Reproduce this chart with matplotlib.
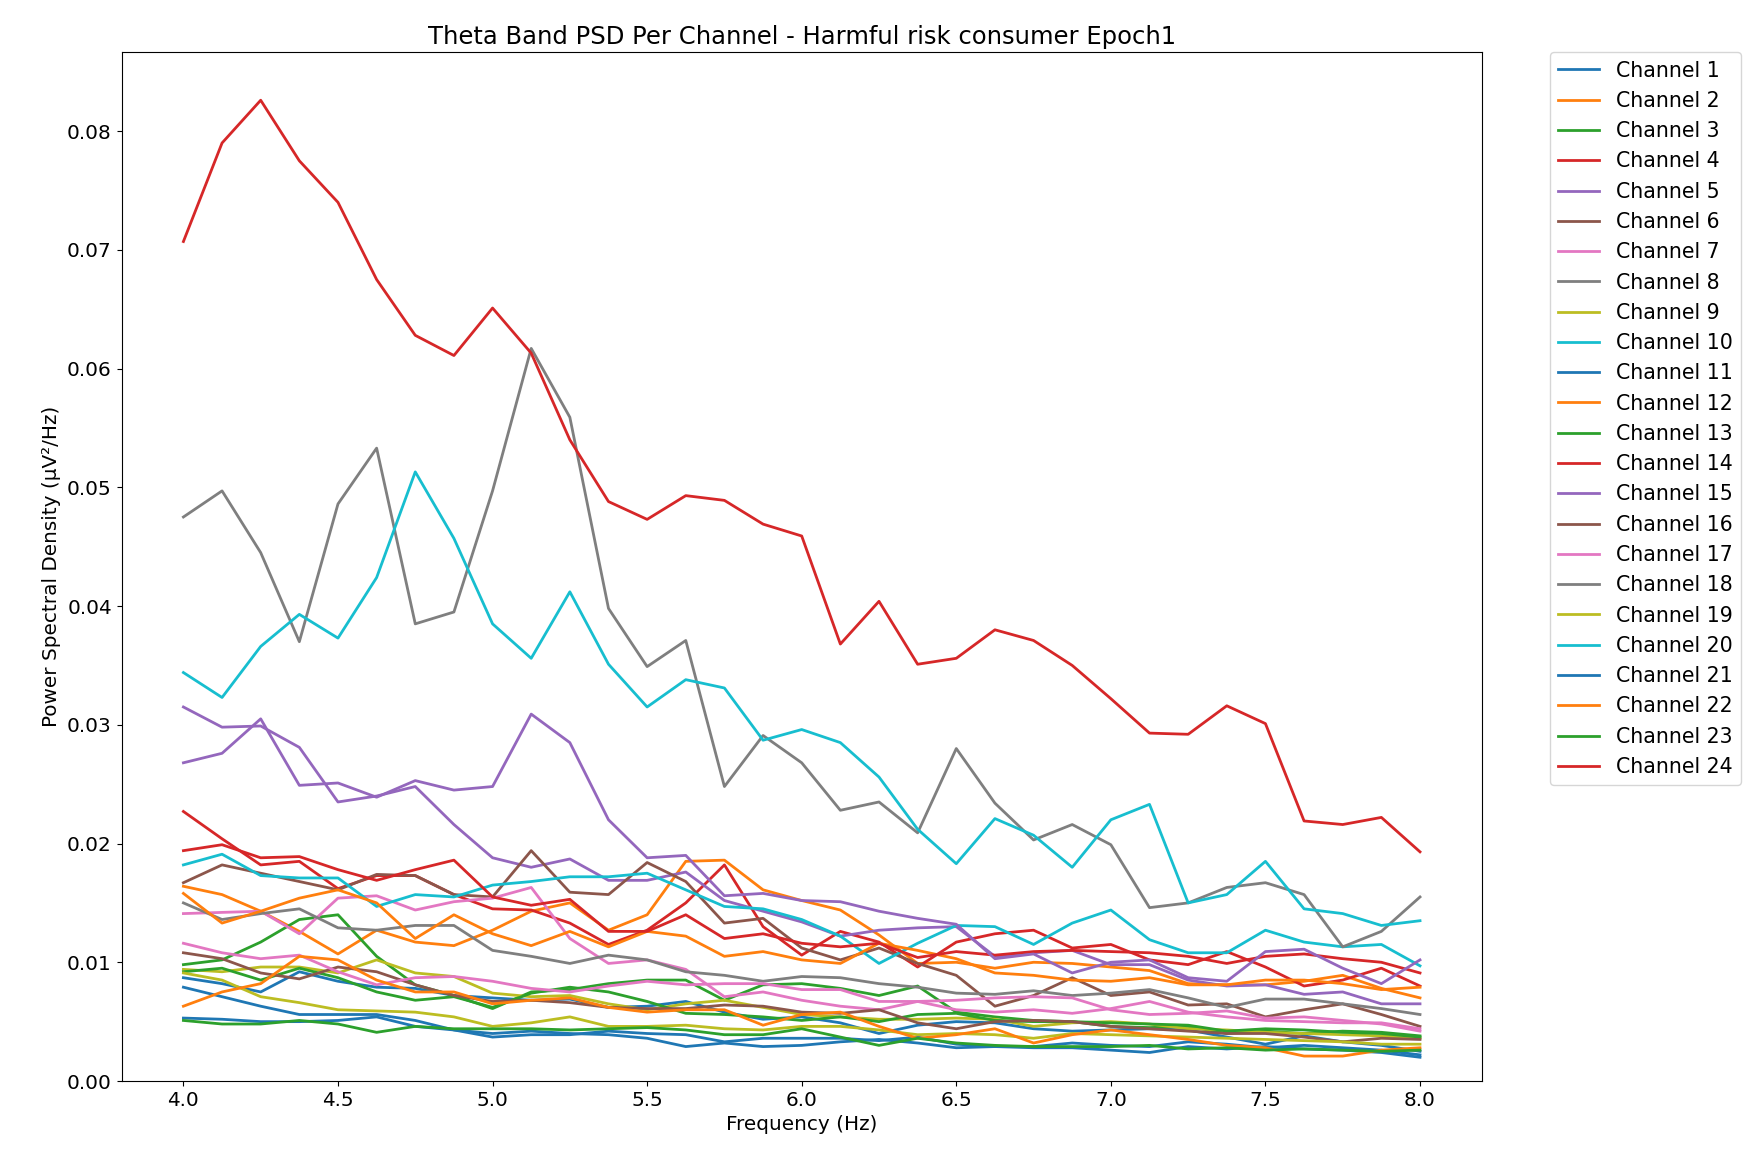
import numpy as np
import matplotlib
matplotlib.use("Agg")
import matplotlib.pyplot as plt

# frequency bins of the theta band (4-8 Hz, 0.125 Hz resolution)
freqs = np.linspace(4.0, 8.0, 33)

ch1 = [0.0087, 0.0082, 0.0075, 0.0092, 0.0084, 0.0079, 0.0078, 0.0072, 0.0070, 0.0068, 0.0069,
       0.0062, 0.0063, 0.0067, 0.0058, 0.0052, 0.0054, 0.0049, 0.0040, 0.0047, 0.0050, 0.0049,
       0.0044, 0.0042, 0.0043, 0.0044, 0.0043, 0.0037, 0.0031, 0.0038, 0.0033, 0.0030, 0.0025]
ch2 = [0.0164, 0.0157, 0.0143, 0.0126, 0.0107, 0.0127, 0.0117, 0.0114, 0.0127, 0.0143, 0.0150,
       0.0127, 0.0140, 0.0185, 0.0186, 0.0161, 0.0152, 0.0144, 0.0123, 0.0099, 0.0100, 0.0095,
       0.0100, 0.0099, 0.0096, 0.0093, 0.0082, 0.0081, 0.0081, 0.0084, 0.0089, 0.0078, 0.0070]
ch3 = [0.0098, 0.0102, 0.0117, 0.0136, 0.0140, 0.0105, 0.0081, 0.0072, 0.0061, 0.0075, 0.0077,
       0.0082, 0.0085, 0.0085, 0.0068, 0.0081, 0.0082, 0.0078, 0.0072, 0.0080, 0.0058, 0.0054,
       0.0051, 0.0050, 0.0046, 0.0045, 0.0046, 0.0040, 0.0042, 0.0040, 0.0042, 0.0041, 0.0038]
ch4 = [0.0227, 0.0204, 0.0182, 0.0185, 0.0162, 0.0173, 0.0173, 0.0157, 0.0145, 0.0144, 0.0133,
       0.0115, 0.0127, 0.0150, 0.0182, 0.0130, 0.0106, 0.0126, 0.0117, 0.0096, 0.0117, 0.0124,
       0.0127, 0.0112, 0.0115, 0.0102, 0.0098, 0.0109, 0.0096, 0.0080, 0.0085, 0.0095, 0.0080]
ch5 = [0.0315, 0.0298, 0.0299, 0.0281, 0.0235, 0.0240, 0.0248, 0.0216, 0.0188, 0.0180, 0.0187,
       0.0169, 0.0169, 0.0176, 0.0152, 0.0143, 0.0134, 0.0122, 0.0127, 0.0129, 0.0130, 0.0105,
       0.0108, 0.0110, 0.0098, 0.0098, 0.0085, 0.0080, 0.0081, 0.0073, 0.0075, 0.0065, 0.0065]
ch6 = [0.0167, 0.0182, 0.0175, 0.0168, 0.0161, 0.0174, 0.0173, 0.0157, 0.0155, 0.0194, 0.0159,
       0.0157, 0.0184, 0.0168, 0.0133, 0.0137, 0.0112, 0.0102, 0.0112, 0.0099, 0.0089, 0.0063,
       0.0072, 0.0087, 0.0072, 0.0075, 0.0064, 0.0065, 0.0054, 0.0060, 0.0065, 0.0056, 0.0046]
ch7 = [0.0141, 0.0142, 0.0143, 0.0124, 0.0154, 0.0156, 0.0144, 0.0151, 0.0154, 0.0163, 0.0120,
       0.0099, 0.0102, 0.0094, 0.0071, 0.0075, 0.0068, 0.0063, 0.0060, 0.0067, 0.0060, 0.0058,
       0.0060, 0.0057, 0.0061, 0.0067, 0.0058, 0.0054, 0.0051, 0.0050, 0.0049, 0.0049, 0.0044]
ch8 = [0.0150, 0.0136, 0.0141, 0.0145, 0.0129, 0.0127, 0.0131, 0.0131, 0.0110, 0.0105, 0.0099,
       0.0106, 0.0102, 0.0092, 0.0089, 0.0084, 0.0088, 0.0087, 0.0082, 0.0079, 0.0074, 0.0073,
       0.0076, 0.0072, 0.0074, 0.0077, 0.0070, 0.0062, 0.0069, 0.0069, 0.0065, 0.0061, 0.0056]
ch9 = [0.0094, 0.0092, 0.0096, 0.0096, 0.0091, 0.0102, 0.0091, 0.0088, 0.0074, 0.0071, 0.0072,
       0.0065, 0.0060, 0.0065, 0.0068, 0.0062, 0.0056, 0.0054, 0.0052, 0.0052, 0.0053, 0.0052,
       0.0046, 0.0049, 0.0050, 0.0048, 0.0044, 0.0043, 0.0041, 0.0040, 0.0039, 0.0038, 0.0036]
ch10 = [0.0182, 0.0191, 0.0173, 0.0171, 0.0171, 0.0147, 0.0157, 0.0155, 0.0165, 0.0168, 0.0172,
        0.0172, 0.0175, 0.0161, 0.0147, 0.0145, 0.0136, 0.0122, 0.0099, 0.0116, 0.0131, 0.0130,
        0.0115, 0.0133, 0.0144, 0.0119, 0.0108, 0.0108, 0.0127, 0.0117, 0.0113, 0.0115, 0.0097]
ch11 = [0.0079, 0.0071, 0.0063, 0.0056, 0.0056, 0.0056, 0.0051, 0.0043, 0.0037, 0.0039, 0.0039,
        0.0042, 0.0040, 0.0039, 0.0033, 0.0036, 0.0036, 0.0036, 0.0034, 0.0037, 0.0031, 0.0029,
        0.0029, 0.0032, 0.0030, 0.0029, 0.0033, 0.0031, 0.0028, 0.0030, 0.0028, 0.0026, 0.0022]
ch12 = [0.0158, 0.0133, 0.0143, 0.0154, 0.0161, 0.0150, 0.0120, 0.0140, 0.0124, 0.0114, 0.0126,
        0.0113, 0.0126, 0.0122, 0.0105, 0.0109, 0.0102, 0.0099, 0.0116, 0.0110, 0.0103, 0.0091,
        0.0089, 0.0085, 0.0084, 0.0087, 0.0081, 0.0081, 0.0085, 0.0085, 0.0082, 0.0077, 0.0079]
ch13 = [0.0092, 0.0095, 0.0085, 0.0095, 0.0087, 0.0075, 0.0068, 0.0071, 0.0062, 0.0074, 0.0079,
        0.0075, 0.0067, 0.0057, 0.0056, 0.0054, 0.0051, 0.0054, 0.0050, 0.0056, 0.0057, 0.0051,
        0.0050, 0.0050, 0.0049, 0.0048, 0.0047, 0.0042, 0.0044, 0.0043, 0.0041, 0.0040, 0.0037]
ch14 = [0.0194, 0.0199, 0.0188, 0.0189, 0.0178, 0.0169, 0.0178, 0.0186, 0.0155, 0.0148, 0.0153,
        0.0126, 0.0126, 0.0140, 0.0120, 0.0124, 0.0116, 0.0113, 0.0116, 0.0104, 0.0109, 0.0106,
        0.0109, 0.0110, 0.0109, 0.0108, 0.0105, 0.0099, 0.0105, 0.0107, 0.0103, 0.0100, 0.0091]
ch15 = [0.0268, 0.0276, 0.0305, 0.0249, 0.0251, 0.0239, 0.0253, 0.0245, 0.0248, 0.0309, 0.0285,
        0.0220, 0.0188, 0.0190, 0.0156, 0.0158, 0.0152, 0.0151, 0.0143, 0.0137, 0.0132, 0.0103,
        0.0107, 0.0091, 0.0100, 0.0102, 0.0087, 0.0084, 0.0109, 0.0111, 0.0095, 0.0082, 0.0102]
ch16 = [0.0108, 0.0103, 0.0091, 0.0086, 0.0096, 0.0092, 0.0081, 0.0072, 0.0067, 0.0068, 0.0066,
        0.0062, 0.0061, 0.0061, 0.0064, 0.0063, 0.0058, 0.0057, 0.0060, 0.0049, 0.0044, 0.0050,
        0.0051, 0.0050, 0.0046, 0.0044, 0.0042, 0.0040, 0.0040, 0.0037, 0.0033, 0.0036, 0.0035]
ch17 = [0.0116, 0.0108, 0.0103, 0.0106, 0.0092, 0.0081, 0.0087, 0.0088, 0.0084, 0.0078, 0.0075,
        0.0080, 0.0084, 0.0081, 0.0082, 0.0082, 0.0077, 0.0077, 0.0067, 0.0067, 0.0068, 0.0070,
        0.0071, 0.0070, 0.0060, 0.0056, 0.0057, 0.0059, 0.0053, 0.0054, 0.0051, 0.0048, 0.0042]
ch18 = [0.0475, 0.0497, 0.0445, 0.0370, 0.0486, 0.0533, 0.0385, 0.0395, 0.0497, 0.0617, 0.0559,
        0.0398, 0.0349, 0.0371, 0.0248, 0.0291, 0.0268, 0.0228, 0.0235, 0.0209, 0.0280, 0.0234,
        0.0203, 0.0216, 0.0199, 0.0146, 0.0150, 0.0163, 0.0167, 0.0157, 0.0113, 0.0126, 0.0155]
ch19 = [0.0091, 0.0085, 0.0071, 0.0066, 0.0060, 0.0059, 0.0058, 0.0054, 0.0046, 0.0049, 0.0054,
        0.0046, 0.0046, 0.0047, 0.0044, 0.0043, 0.0046, 0.0046, 0.0043, 0.0039, 0.0040, 0.0039,
        0.0036, 0.0040, 0.0039, 0.0038, 0.0037, 0.0036, 0.0035, 0.0034, 0.0033, 0.0031, 0.0031]
ch20 = [0.0344, 0.0323, 0.0366, 0.0393, 0.0373, 0.0424, 0.0513, 0.0457, 0.0385, 0.0356, 0.0412,
        0.0351, 0.0315, 0.0338, 0.0331, 0.0287, 0.0296, 0.0285, 0.0256, 0.0212, 0.0183, 0.0221,
        0.0207, 0.0180, 0.0220, 0.0233, 0.0150, 0.0157, 0.0185, 0.0145, 0.0141, 0.0131, 0.0135]
ch21 = [0.0053, 0.0052, 0.0050, 0.0050, 0.0051, 0.0054, 0.0046, 0.0043, 0.0040, 0.0042, 0.0040,
        0.0039, 0.0036, 0.0029, 0.0032, 0.0029, 0.0030, 0.0033, 0.0035, 0.0032, 0.0028, 0.0029,
        0.0028, 0.0028, 0.0026, 0.0024, 0.0029, 0.0027, 0.0029, 0.0027, 0.0026, 0.0024, 0.0020]
ch22 = [0.0063, 0.0075, 0.0082, 0.0105, 0.0102, 0.0085, 0.0075, 0.0075, 0.0065, 0.0068, 0.0070,
        0.0062, 0.0058, 0.0060, 0.0060, 0.0047, 0.0056, 0.0058, 0.0046, 0.0036, 0.0039, 0.0044,
        0.0032, 0.0039, 0.0043, 0.0039, 0.0035, 0.0030, 0.0028, 0.0021, 0.0021, 0.0026, 0.0028]
ch23 = [0.0051, 0.0048, 0.0048, 0.0051, 0.0048, 0.0041, 0.0046, 0.0044, 0.0044, 0.0044, 0.0043,
        0.0044, 0.0045, 0.0043, 0.0039, 0.0039, 0.0044, 0.0037, 0.0030, 0.0036, 0.0032, 0.0030,
        0.0029, 0.0029, 0.0029, 0.0030, 0.0027, 0.0028, 0.0026, 0.0027, 0.0026, 0.0025, 0.0026]
ch24 = [0.0707, 0.0790, 0.0826, 0.0775, 0.0740, 0.0675, 0.0628, 0.0611, 0.0651, 0.0613, 0.0540,
        0.0488, 0.0473, 0.0493, 0.0489, 0.0469, 0.0459, 0.0368, 0.0404, 0.0351, 0.0356, 0.0380,
        0.0371, 0.0350, 0.0322, 0.0293, 0.0292, 0.0316, 0.0301, 0.0219, 0.0216, 0.0222, 0.0193]

channels = [ch1, ch2, ch3, ch4, ch5, ch6, ch7, ch8, ch9, ch10, ch11, ch12,
            ch13, ch14, ch15, ch16, ch17, ch18, ch19, ch20, ch21, ch22, ch23, ch24]
channel_labels = [f"Channel {i + 1}" for i in range(len(channels))]

plt.rcParams["font.size"] = 14.4
fig = plt.figure(figsize=(17.62, 11.64), dpi=100)
ax = fig.add_axes([0.069, 0.0713, 0.772, 0.8837])

for values, label in zip(channels, channel_labels):
    ax.plot(freqs, values, label=label, linewidth=2.0)

ax.set_ylim(bottom=0)
ax.set_title("Theta Band PSD Per Channel - Harmful risk consumer Epoch1", fontsize=17.5)
ax.set_xlabel("Frequency (Hz)")
ax.set_ylabel("Power Spectral Density (µV²/Hz)")
ax.legend(bbox_to_anchor=(1.05, 1), loc="upper left", borderaxespad=0, fontsize=14.8)

fig.savefig("out.png", dpi=100)
